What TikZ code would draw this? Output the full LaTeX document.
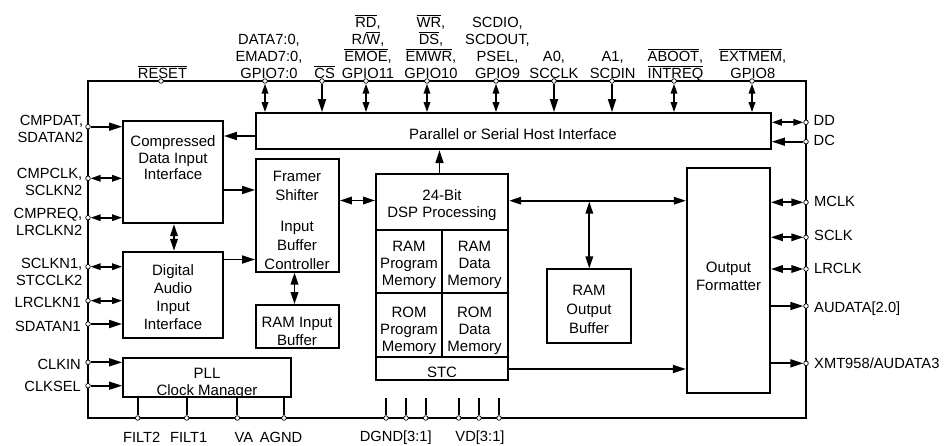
\documentclass[tikz,border=0pt]{standalone}
\usepackage{fontspec}
\setmainfont{Liberation Sans}
\usetikzlibrary{arrows.meta}
\newcommand\ovl[1]{\vbox{\hrule height 1pt\kern1.2pt\hbox{#1}}}
\tikzset{
  box/.style={draw, line width=1.8pt, inner sep=0pt},
  frame/.style={draw, line width=2.8pt, inner sep=0pt},
  bt/.style={align=center, inner sep=0pt, text depth=0pt, font=\fontsize{15}{17}\selectfont},
  pinc/.style={circle, draw, fill=white, inner sep=0pt, minimum size=4.6pt, line width=0.7pt},
  conn/.style={line width=1.7pt},
  sarr/.style={conn, -{Triangle[length=13pt,width=8pt]}},
  darr/.style={conn, {Triangle[length=12pt,width=7.5pt]}-{Triangle[length=12pt,width=7.5pt]}},
  pdarr/.style={conn, {Triangle[length=10pt,width=6.5pt]}-{Triangle[length=10pt,width=6.5pt]}},
  lab/.style={inner sep=0pt, text depth=0pt, font=\fontsize{14.7}{16.8}\selectfont},
  toplab/.style={lab, anchor=south, align=center},
  leftlab/.style={lab, anchor=east, align=right},
  rightlab/.style={lab, anchor=west, align=left},
  botlab/.style={lab, anchor=center},
}
\begin{document}
\begin{tikzpicture}[x=1pt, y=-1pt]
\useasboundingbox (0,0) rectangle (945,445);

% chip outline
\node[frame, minimum width=718, minimum height=337] (chip) at (447,249.5) {};

% blocks
\node[box, minimum width=515, minimum height=36.3] (hib) at (513.5,131.15) {};
\node[bt] (hibT) at (513,134.5) {Parallel or Serial Host Interface};

\node[box, minimum width=100, minimum height=102.3] (cdi) at (173,172.15) {};
\node[bt, font=\fontsize{15}{16.5}\selectfont] (cdiT) at (173,157.7) {Compressed\\Data Input\\Interface};

\node[box, minimum width=100, minimum height=86] (dai) at (173,294.7) {};
\node[bt, font=\fontsize{15}{18}\selectfont] (daiT) at (173,297) {Digital\\Audio\\Input\\Interface};

\node[box, minimum width=168, minimum height=39.6] (pll) at (207,377.5) {};
\node[bt, font=\fontsize{15}{16.7}\selectfont] (pllT) at (207,381.7) {PLL\\Clock Manager};

\node[box, minimum width=83, minimum height=112.4] (framer) at (297.5,215.5) {};
\node[bt, font=\fontsize{15}{19}\selectfont] (framerT) at (297,220) {Framer\\Shifter\\[12pt]Input\\Buffer\\Controller};

\node[box, minimum width=83, minimum height=43.3] (ramib) at (297.5,326.65) {};
\node[bt, font=\fontsize{15}{17.3}\selectfont] (ramibT) at (297,331.3) {RAM Input\\Buffer};

\node[box, minimum width=132.3, minimum height=56] (dsp) at (442.15,202) {};
\node[bt, font=\fontsize{15}{17.3}\selectfont] (dspT) at (442,203.7) {24-Bit\\DSP Processing};

\node[box, minimum width=66.3, minimum height=62.7] (rampm) at (409.15,261.35) {};
\node[bt] (rampmT) at (409,263.8) {RAM\\Program\\Memory};
\node[box, minimum width=66, minimum height=62.7] (ramdm) at (475.3,261.35) {};
\node[bt] (ramdmT) at (474.5,263.8) {RAM\\Data\\Memory};

\node[box, minimum width=66.3, minimum height=64.6] (rompm) at (409.15,325) {};
\node[bt] (rompmT) at (409,329.2) {ROM\\Program\\Memory};
\node[box, minimum width=66, minimum height=64.6] (romdm) at (475.3,325) {};
\node[bt] (romdmT) at (474.5,329.2) {ROM\\Data\\Memory};

\node[box, minimum width=132.3, minimum height=22.7] (stc) at (442.15,368.65) {};
\node[bt] (stcT) at (442,372.3) {STC};

\node[box, minimum width=83.7, minimum height=73.4] (ramob) at (589.15,306) {};
\node[bt, font=\fontsize{15}{19}\selectfont] (ramobT) at (589,309.8) {RAM\\Output\\Buffer};

\node[box, minimum width=83.3, minimum height=225] (of) at (728.35,280.8) {};
\node[bt, font=\fontsize{15}{17.7}\selectfont] (ofT) at (728.5,276.2) {Output\\Formatter};

% top pins
\node[pinc] (pReset) at (161,81) {};
\node[pinc] (pData) at (265,81) {};
\node[pinc] (pCS) at (322,81) {};
\node[pinc] (pRD) at (366,81) {};
\node[pinc] (pWR) at (427,81) {};
\node[pinc] (pSCDIO) at (496,81) {};
\node[pinc] (pA0) at (554,81) {};
\node[pinc] (pA1) at (612,81) {};
\node[pinc] (pAboot) at (674,81) {};
\node[pinc] (pExt) at (752,81) {};

% right pins
\node[pinc] (pDD) at (806,122.3) {};
\node[pinc] (pDC) at (806,141.7) {};
\node[pinc] (pMCLK) at (806,202.3) {};
\node[pinc] (pSCLK) at (806,237.3) {};
\node[pinc] (pLRCLK) at (806,269) {};
\node[pinc] (pAUD) at (806,306) {};
\node[pinc] (pXMT) at (806,363.3) {};

% left pins
\node[pinc] (pCMPDAT) at (88,126.7) {};
\node[pinc] (pCMPCLK) at (88,178.3) {};
\node[pinc] (pCMPREQ) at (88,217.7) {};
\node[pinc] (pSCLKN1) at (88,266.7) {};
\node[pinc] (pLRCLKN1) at (88,300.7) {};
\node[pinc] (pSDATAN1) at (88,324) {};
\node[pinc] (pCLKIN) at (88,362.3) {};
\node[pinc] (pCLKSEL) at (88,385.7) {};

% bottom pins
\node[pinc] (pFilt2) at (137.7,418) {};
\node[pinc] (pFilt1) at (186.7,418) {};
\node[pinc] (pVA) at (237.3,418) {};
\node[pinc] (pAGND) at (284,418) {};
\node[pinc] (pDg1) at (386,418) {};
\node[pinc] (pDg2) at (406,418) {};
\node[pinc] (pDg3) at (425.7,418) {};
\node[pinc] (pVd1) at (458.7,418) {};
\node[pinc] (pVd2) at (479,418) {};
\node[pinc] (pVd3) at (499,418) {};
\coordinate (eDg1) at (386,398.3);
\coordinate (eDg2) at (406,398.3);
\coordinate (eDg3) at (425.7,398.3);
\coordinate (eVd1) at (458.7,398.3);
\coordinate (eVd2) at (479,398.3);
\coordinate (eVd3) at (499,398.3);

% top connectors
\draw[pdarr] (pData) -- (hib.north -| pData);
\draw[sarr] (pCS) -- (hib.north -| pCS);
\draw[pdarr] (pRD) -- (hib.north -| pRD);
\draw[pdarr] (pWR) -- (hib.north -| pWR);
\draw[pdarr] (pSCDIO) -- (hib.north -| pSCDIO);
\draw[sarr] (pA0) -- (hib.north -| pA0);
\draw[sarr] (pA1) -- (hib.north -| pA1);
\draw[pdarr] (pAboot) -- (hib.north -| pAboot);
\draw[pdarr] (pExt) -- (hib.north -| pExt);

% right connectors
\draw[pdarr] (hib.east |- pDD) -- (pDD);
\draw[sarr] (pDC) -- (hib.east |- pDC);
\draw[darr] (of.east |- pMCLK) -- (pMCLK);
\draw[darr] (of.east |- pSCLK) -- (pSCLK);
\draw[darr] (of.east |- pLRCLK) -- (pLRCLK);
\draw[sarr] (of.east |- pAUD) -- (pAUD);
\draw[sarr] (of.east |- pXMT) -- (pXMT);

% left connectors
\draw[sarr] (pCMPDAT) -- (cdi.west |- pCMPDAT);
\draw[pdarr] (pCMPCLK) -- (cdi.west |- pCMPCLK);
\draw[pdarr] (pCMPREQ) -- (cdi.west |- pCMPREQ);
\draw[pdarr] (pSCLKN1) -- (dai.west |- pSCLKN1);
\draw[pdarr] (pLRCLKN1) -- (dai.west |- pLRCLKN1);
\draw[sarr] (pSDATAN1) -- (dai.west |- pSDATAN1);
\draw[sarr] (pCLKIN) -- (pll.west |- pCLKIN);
\draw[sarr] (pCLKSEL) -- (pll.west |- pCLKSEL);

% bottom connectors
\draw[conn] (pFilt2) -- (pll.south -| pFilt2);
\draw[conn] (pFilt1) -- (pll.south -| pFilt1);
\draw[conn] (pVA) -- (pll.south -| pVA);
\draw[conn] (pAGND) -- (pll.south -| pAGND);
\draw[conn] (pDg1) -- (eDg1);
\draw[conn] (pDg2) -- (eDg2);
\draw[conn] (pDg3) -- (eDg3);
\draw[conn] (pVd1) -- (eVd1);
\draw[conn] (pVd2) -- (eVd2);
\draw[conn] (pVd3) -- (eVd3);

% internal connectors
\draw[sarr] (hib.west |- 0,136) -- (cdi.east |- 0,136);
\draw[darr] (cdi.south -| 174,0) -- (dai.north -| 174,0);
\draw[sarr] (cdi.east |- 0,190) -- (framer.west |- 0,190);
\draw[sarr] (dai.east |- 0,259.5) -- (framer.west |- 0,259.5);
\draw[darr] (framer.south -| 294.5,0) -- (ramib.north -| 294.5,0);
\draw[darr] (framer.east |- 0,200.5) -- (dsp.west |- 0,200.5);
\draw[sarr] (dsp.north -| 439.5,0) -- (hib.south -| 439.5,0);
\draw[darr] (dsp.east |- 0,200.7) -- (of.west |- 0,200.7);
\coordinate (jn) at (589.3,201.6);
\draw[darr] (jn) -- (ramob.north -| jn);
\draw[sarr] (stc.east |- 0,369) -- (of.west |- 0,369);

% top labels
\node[toplab] (lReset) at (162.5,78.3) {\ovl{RESET}};
\node[toplab] (lData) at (269,78.3) {DATA7:0,\\EMAD7:0,\\GPIO7:0};
\node[toplab] (lCS) at (324.7,78.3) {\ovl{CS}};
\node[toplab] (lRD) at (368,78.3) {\ovl{RD},\\R/\ovl{W},\\\ovl{EMOE},\\GPIO11};
\node[toplab] (lWR) at (431,78.3) {\ovl{WR},\\\ovl{DS},\\\ovl{EMWR},\\GPIO10};
\node[toplab] (lSCDIO) at (497.5,78.3) {SCDIO,\\SCDOUT,\\PSEL,\\GPIO9};
\node[toplab] (lA0) at (554,78.3) {A0,\\SCCLK};
\node[toplab] (lA1) at (612.7,78.3) {A1,\\SCDIN};
\node[toplab] (lAboot) at (675.5,78.3) {\ovl{ABOOT},\\\ovl{INTREQ}};
\node[toplab] (lExt) at (752.8,78.3) {\ovl{EXTMEM},\\GPIO8};

% left labels
\node[leftlab] (lCMPDAT) at (83.5,129.2) {CMPDAT,\\SDATAN2};
\node[leftlab] (lCMPCLK) at (82.5,182) {CMPCLK,\\SCLKN2};
\node[leftlab] (lCMPREQ) at (82.5,221.7) {CMPREQ,\\LRCLKN2};
\node[leftlab] (lSCLKN1) at (82.5,271.7) {SCLKN1,\\STCCLK2};
\node[leftlab] (lLRCLKN1) at (81,302.7) {LRCLKN1};
\node[leftlab] (lSDATAN1) at (81,326.7) {SDATAN1};
\node[leftlab] (lCLKIN) at (81,364) {CLKIN};
\node[leftlab] (lCLKSEL) at (81,386.7) {CLKSEL};

% right labels
\node[rightlab] (lDD) at (813.5,120.7) {DD};
\node[rightlab] (lDC) at (813.5,140.5) {DC};
\node[rightlab] (lMCLK) at (814,201.7) {MCLK};
\node[rightlab] (lSCLK) at (814,235.7) {SCLK};
\node[rightlab] (lLRCLK) at (814,268.3) {LRCLK};
\node[rightlab] (lAUD) at (814,306.7) {AUDATA[2.0]};
\node[rightlab] (lXMT) at (814,363.3) {XMT958/AUDATA3};

% bottom labels
\node[botlab] (lFilt2) at (141.7,437) {FILT2};
\node[botlab] (lFilt1) at (188.7,437) {FILT1};
\node[botlab] (lVA) at (244,437) {VA};
\node[botlab] (lAGND) at (281,437) {AGND};
\node[botlab] (lDGND) at (395.8,436.5) {DGND[3:1]};
\node[botlab] (lVD) at (480,436.5) {VD[3:1]};
\end{tikzpicture}
\end{document}
